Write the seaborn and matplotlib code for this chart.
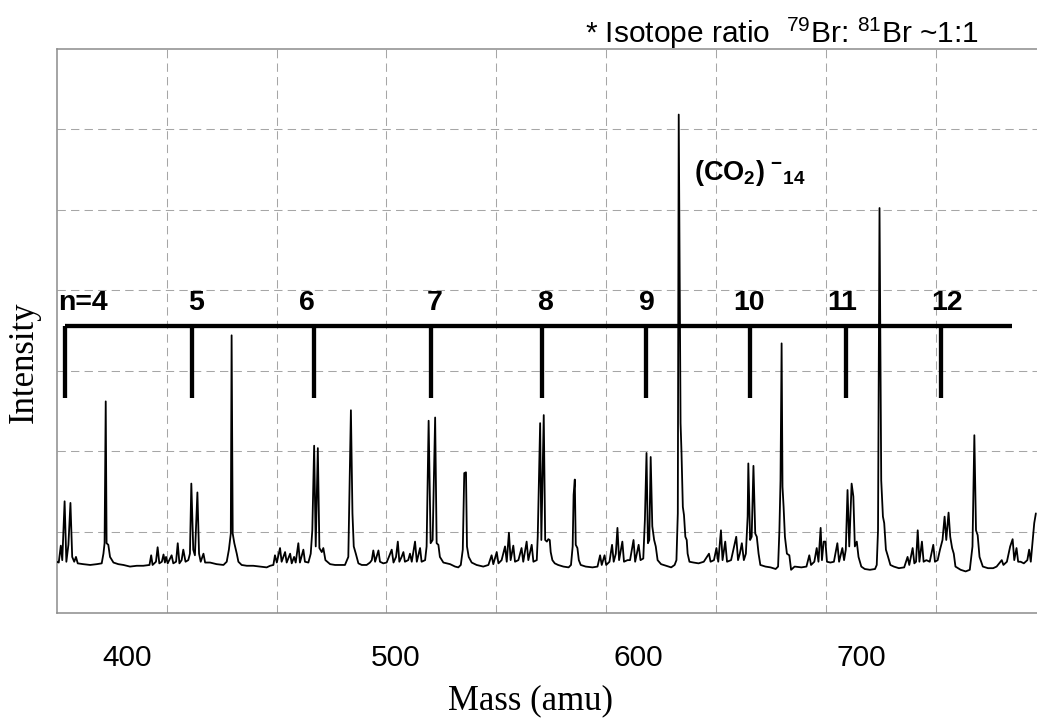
import numpy as np
import pandas as pd
import matplotlib
matplotlib.use("Agg")
import matplotlib.pyplot as plt
from matplotlib.ticker import FixedLocator
import seaborn as sns

# ---------------- data ----------------
mass = [
    375.6, 376.3, 377.0, 377.5, 378.3, 378.9, 379.6, 380.3, 380.9, 381.6,
    382.2, 382.8, 384.7, 387.1, 389.4, 391.1, 391.7, 392.1, 392.5, 392.8,
    393.4, 394.0, 395.2, 396.9, 398.7, 401.0, 403.4, 405.7, 407.9, 408.5,
    409.0, 410.2, 410.8, 411.4, 412.3, 412.9, 413.4, 413.8, 414.4, 415.8,
    416.4, 417.4, 418.0, 418.6, 419.4, 420.0, 420.8, 421.8, 422.4, 422.9,
    423.6, 424.2, 425.1, 425.7, 426.3, 427.3, 427.9, 429.7, 432.1, 434.6,
    435.8, 436.6, 437.3, 437.6, 438.0, 438.6, 439.5, 440.1, 441.3, 443.2,
    445.6, 448.1, 450.6, 451.9, 453.1, 453.7, 454.4, 455.6, 456.2, 457.5,
    458.1, 459.4, 460.0, 460.9, 461.5, 462.5, 463.1, 464.4, 465.0, 466.3,
    467.2, 467.8, 468.5, 469.1, 469.9, 470.5, 471.4, 472.0, 472.8, 473.5,
    474.6, 476.5, 478.4, 480.3, 481.6, 482.1, 482.6, 483.2, 483.7, 484.5,
    485.5, 486.8, 488.7, 490.0, 490.7, 491.3, 492.0, 493.3, 493.9, 495.2,
    496.5, 497.4, 498.5, 499.2, 500.2, 500.9, 501.5, 502.4, 503.1, 503.7,
    505.0, 505.7, 506.4, 507.7, 508.4, 509.7, 510.3, 511.7, 512.3, 513.1,
    513.9, 514.7, 515.7, 516.3, 517.0, 517.6, 519.0, 521.7, 523.7, 525.0,
    526.0, 526.8, 527.4, 528.1, 528.5, 529.2, 530.4, 532.4, 535.1, 537.2,
    538.5, 539.2, 540.6, 541.3, 542.6, 544.0, 544.7, 545.6, 546.3, 547.4,
    548.1, 549.5, 550.8, 551.5, 552.9, 553.6, 555.0, 555.7, 557.1, 557.5,
    558.5, 559.0, 560.0, 560.6, 561.3, 561.9, 562.5, 562.9, 563.6, 564.6,
    566.0, 568.2, 570.4, 571.4, 572.1, 572.5, 573.0, 573.4, 574.1, 574.7,
    575.5, 577.6, 580.5, 582.6, 583.7, 584.4, 585.6, 586.3, 587.7, 588.8,
    589.5, 590.4, 591.1, 591.8, 593.2, 593.9, 595.4, 596.5, 598.0, 598.7,
    600.2, 601.0, 602.2, 602.9, 603.6, 604.2, 604.8, 605.4, 606.1, 606.9,
    607.6, 608.4, 609.9, 612.1, 614.3, 615.8, 616.6, 617.2, 617.6, 618.4,
    618.8, 619.4, 619.9, 620.5, 621.1, 621.5, 622.3, 624.1, 626.3, 628.6,
    630.9, 631.6, 633.1, 634.2, 635.0, 636.2, 636.9, 638.1, 638.9, 640.7,
    643.0, 643.8, 644.6, 645.5, 646.4, 647.3, 648.1, 648.4, 649.2, 649.9,
    650.7, 651.5, 652.2, 653.0, 653.8, 656.1, 658.4, 660.7, 661.8, 662.4,
    662.9, 663.4, 663.8, 664.3, 664.9, 665.8, 666.9, 667.7, 669.3, 672.4,
    674.7, 676.0, 676.8, 678.3, 679.4, 680.2, 681.2, 681.8, 682.6, 683.4,
    684.1, 685.7, 687.3, 688.9, 689.7, 691.2, 692.0, 692.8, 693.6, 694.4,
    695.5, 696.3, 697.0, 697.9, 698.7, 700.0, 701.6, 704.0, 706.4, 707.2,
    707.8, 708.5, 709.3, 710.1, 710.7, 711.5, 712.3, 713.6, 715.2, 717.6,
    720.1, 721.7, 722.5, 724.1, 724.9, 725.7, 726.5, 727.3, 728.5, 729.3,
    730.6, 732.2, 733.9, 734.7, 736.0, 737.1, 738.3, 739.3, 740.1, 741.2,
    742.0, 742.9, 743.7, 744.5, 747.0, 749.4, 751.4, 752.7, 753.6, 754.4,
    755.2, 756.1, 757.7, 760.2, 762.7, 764.4, 766.9, 767.7, 769.4, 771.0,
    772.2, 773.0, 774.1, 774.9, 776.1, 777.7, 779.4, 780.3, 781.1, 782.8,
    783.6,
]
intensity = [
    6.3, 6.2, 8.3, 6.5, 13.8, 6.3, 8.4, 13.6, 6.9, 6.3,
    6.9, 6.1, 6.0, 5.9, 6.0, 6.1, 7.3, 8.6, 26.2, 8.6,
    8.4, 6.9, 6.2, 6.0, 5.9, 5.7, 5.8, 5.8, 5.9, 7.1,
    5.9, 6.3, 8.1, 6.1, 6.3, 7.2, 6.2, 6.9, 6.1, 7.1,
    6.1, 6.3, 8.6, 6.1, 6.5, 7.8, 6.3, 6.5, 7.3, 16.0,
    7.8, 7.1, 14.9, 7.3, 6.3, 7.3, 6.2, 6.2, 6.0, 5.9,
    6.3, 7.8, 9.8, 34.4, 9.8, 8.6, 7.3, 6.3, 5.9, 5.8,
    5.8, 5.7, 5.6, 5.8, 5.9, 7.1, 6.2, 8.0, 6.3, 7.5,
    6.2, 7.3, 6.1, 6.9, 6.2, 8.6, 6.2, 7.8, 6.3, 6.2,
    7.3, 10.2, 20.7, 8.2, 20.4, 8.0, 7.5, 8.0, 6.5, 6.3,
    6.0, 5.9, 5.9, 5.9, 6.9, 16.4, 25.1, 12.3, 8.2, 7.3,
    6.1, 5.9, 5.9, 6.2, 6.5, 7.7, 6.3, 7.7, 6.3, 6.1,
    6.2, 6.9, 7.8, 6.2, 6.9, 8.8, 6.3, 6.9, 7.5, 6.3,
    6.5, 7.3, 6.3, 8.8, 6.3, 8.0, 6.3, 6.5, 8.2, 23.8,
    8.6, 9.0, 24.2, 8.6, 8.4, 6.9, 6.2, 6.0, 5.7, 5.6,
    5.9, 7.8, 17.3, 17.4, 8.2, 6.9, 6.2, 5.9, 5.7, 5.9,
    7.1, 6.0, 7.5, 6.1, 6.5, 8.2, 6.3, 9.9, 6.5, 8.3,
    6.3, 6.5, 8.0, 6.3, 8.8, 6.5, 8.4, 6.3, 6.5, 9.4,
    23.5, 9.0, 24.5, 9.0, 8.8, 9.1, 9.0, 7.5, 6.5, 6.1,
    5.9, 5.7, 5.6, 5.9, 8.2, 14.6, 16.5, 8.4, 8.0, 6.5,
    5.9, 5.7, 5.6, 5.7, 7.1, 5.9, 7.1, 5.9, 6.3, 8.4,
    6.3, 7.3, 10.5, 6.5, 8.8, 6.3, 6.5, 6.5, 9.0, 6.3,
    8.4, 6.5, 6.7, 11.5, 19.8, 8.6, 9.0, 19.3, 10.7, 9.0,
    8.2, 6.5, 6.0, 5.8, 5.6, 5.9, 6.5, 12.3, 61.8, 23.5,
    20.0, 13.1, 12.1, 9.4, 9.0, 7.3, 6.3, 6.2, 6.1, 6.3,
    7.3, 6.3, 6.5, 8.0, 6.3, 10.2, 6.5, 8.8, 6.3, 6.5,
    9.4, 6.5, 7.3, 8.6, 6.5, 7.3, 11.9, 18.5, 9.0, 9.4,
    18.2, 9.8, 9.4, 7.3, 5.9, 5.7, 5.6, 5.4, 5.7, 10.2,
    16.4, 33.4, 15.6, 13.1, 9.4, 7.3, 7.1, 5.3, 5.7, 5.6,
    5.7, 7.1, 5.9, 6.3, 8.0, 6.3, 10.5, 6.5, 8.8, 8.8,
    6.3, 6.2, 6.3, 8.6, 6.3, 8.0, 6.5, 7.8, 15.2, 8.2,
    16.0, 14.4, 8.2, 8.8, 6.9, 5.7, 5.4, 5.3, 5.4, 5.9,
    10.2, 50.2, 16.4, 11.9, 11.1, 7.8, 7.1, 5.9, 5.7, 5.5,
    5.6, 6.9, 5.9, 8.0, 6.1, 6.3, 10.2, 6.3, 8.8, 6.3,
    6.5, 6.3, 8.4, 6.3, 6.5, 7.8, 9.0, 11.9, 9.0, 12.4,
    9.4, 8.0, 7.3, 5.7, 5.3, 5.1, 5.3, 8.2, 22.0, 10.2,
    9.6, 6.9, 5.7, 5.5, 5.5, 5.7, 6.5, 5.9, 6.3, 8.2,
    9.1, 6.5, 8.0, 6.3, 6.3, 6.1, 6.5, 7.8, 6.3, 11.1,
    12.3,
]

# Br-(CO2)n cluster series marked above the spectrum
cluster_n = [4, 5, 6, 7, 8, 9, 10, 11, 12]
cluster_mass = [378.4, 423.0, 468.5, 514.1, 559.3, 603.4, 649.0, 692.7, 737.8]
cluster_labels = ["n=4", "5", "6", "7", "8", "9", "10", "11", "12"]
series_end_mass = 771.9

xtick_values = [400, 500, 600, 700]
mass_range = (375.6, 788.6)
intensity_range = (0, 70)

# ---------------- layout (pixels of a 1037x719 canvas) ----------------
W, H = 1037, 719
AX_L, AX_R, AX_T, AX_B = 56.7, 1046.0, 48.5, 612.5

label_mass = [376.1, 424.6, 465.7, 515.4, 560.7, 603.9, 648.8, 691.3, 740.4]
label_level = 37.6
bar_level = 35.5
marker_bottom = 26.6

sns.set_theme(style="white")
plt.rcParams["font.family"] = ["Liberation Sans", "DejaVu Sans"]
plt.rcParams["text.color"] = "black"
plt.rcParams["axes.labelcolor"] = "black"
plt.rcParams["mathtext.fontset"] = "custom"
plt.rcParams["mathtext.rm"] = "Liberation Sans"
plt.rcParams["mathtext.bf"] = "Liberation Sans:bold"
plt.rcParams["mathtext.it"] = "Liberation Sans:italic"

fig = plt.figure(figsize=(W / 100, H / 100), dpi=100)
fig.patch.set_facecolor("white")
ax = fig.add_axes([AX_L / W, 1 - AX_B / H, (AX_R - AX_L) / W, (AX_B - AX_T) / H])
ax.set_facecolor("white")

# time-of-flight like axis: position ~ sqrt(mass)
ax.set_xscale("function", functions=(np.sqrt, np.square))

df = pd.DataFrame({"mass": mass, "intensity": intensity})
sns.lineplot(data=df, x="mass", y="intensity", ax=ax, color="black",
             linewidth=1.3, estimator=None, sort=False, zorder=3)

ax.set_xlim(*mass_range)
ax.set_ylim(*intensity_range)

# grid: 9 equal divisions along the (sqrt) axis, 7 along intensity
grid_x = np.linspace(np.sqrt(mass_range[0]), np.sqrt(mass_range[1]), 10)[1:-1] ** 2
ax.xaxis.set_minor_locator(FixedLocator(grid_x))
ax.set_xticks(xtick_values)
ax.set_xticklabels([str(v) for v in xtick_values])
ax.set_yticks(np.arange(10, 70, 10))
ax.tick_params(axis="y", labelleft=False, length=0)
ax.tick_params(axis="x", which="both", length=0)
ax.tick_params(axis="x", which="major", pad=22.9, labelsize=21.5, labelcolor="black")
grid_kw = dict(color="#a6a6a6", linewidth=0.75, linestyle=(0, (8, 5)))
ax.xaxis.grid(False, which="major")
ax.xaxis.grid(True, which="minor", **grid_kw)
ax.yaxis.grid(True, which="major", **grid_kw)
ax.set_axisbelow(True)

for side in ["left", "top", "bottom"]:
    ax.spines[side].set_color("#8c8c8c")
    ax.spines[side].set_linewidth(1.1)
ax.spines["right"].set_visible(False)

# cluster series bar and markers
ax.hlines(bar_level, cluster_mass[0], series_end_mass, color="black",
          linewidth=3.1, zorder=4, capstyle="butt")
ax.vlines(cluster_mass, marker_bottom, bar_level, color="black",
          linewidth=3.1, zorder=4, capstyle="butt")
for i, (lab, xm) in enumerate(zip(cluster_labels, label_mass)):
    ax.text(xm, label_level, lab, ha="left" if i == 0 else "center",
            va="baseline", fontsize=20.5, fontweight="bold", color="black", zorder=5)

# (CO2)14- peak label
ax.text(624.4, 53.7, r"$\mathbf{(CO_2)}\;{}^{\mathbf{-}}{}_{\mathbf{14}}$",
        ha="left", va="baseline", fontsize=19.5, color="black", zorder=5)

# note at the top
fig.text(585 / W, 1 - 43.3 / H, r"* Isotope ratio  ${}^{79}$Br: ${}^{81}$Br ~1:1",
         ha="left", va="baseline", fontsize=21.5, color="black")

# axis titles
ax.set_xlabel("Mass (amu)", family=["Liberation Serif", "DejaVu Serif"],
              fontsize=25, va="baseline", ha="center", color="black")
ax.xaxis.set_label_coords((530.8 - AX_L) / (AX_R - AX_L), (AX_B - 709.3) / (AX_B - AX_T))
ax.set_ylabel("Intensity", family=["Liberation Serif", "DejaVu Serif"],
              fontsize=25, va="center", ha="center", color="black")
ax.yaxis.set_label_coords((24 - AX_L) / (AX_R - AX_L), (AX_B - 362) / (AX_B - AX_T))

fig.savefig("out.png", dpi=100, facecolor="white")
